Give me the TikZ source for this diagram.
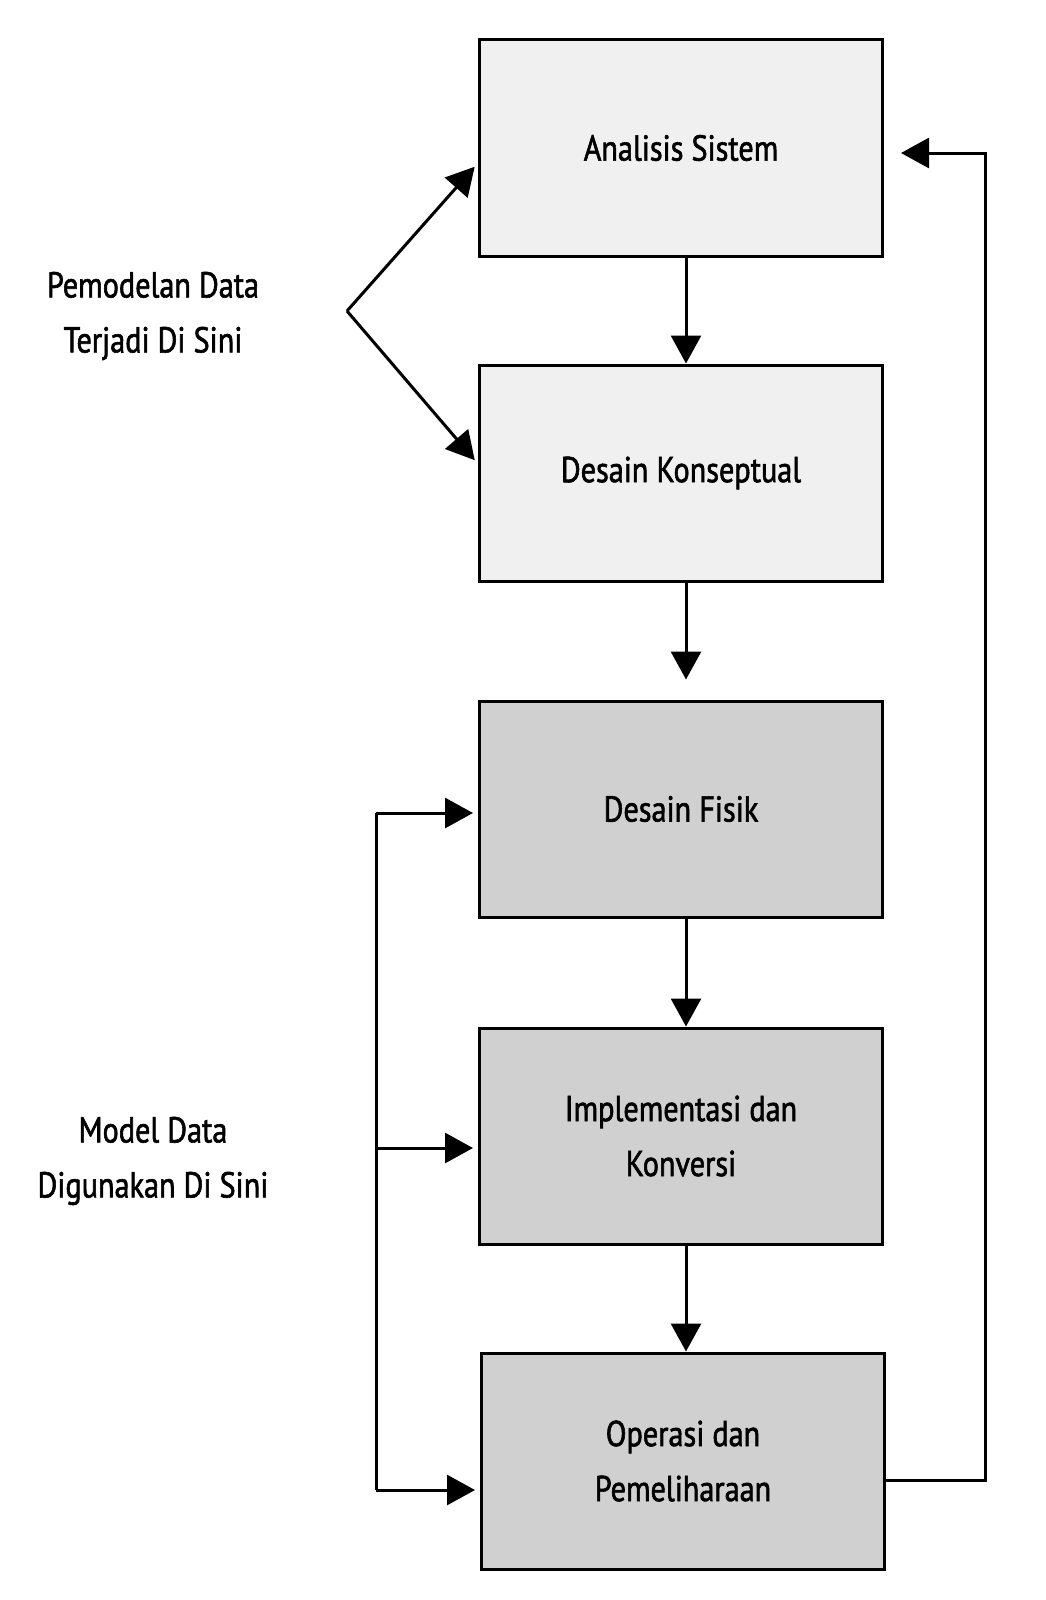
\documentclass[tikz,border=0pt]{standalone}
\usepackage{fontspec}
\setmainfont{PT Sans}[FakeStretch=0.84, FakeBold=1.6]
\usetikzlibrary{arrows.meta}
\definecolor{boxLIGHT}{RGB}{240,240,240}
\definecolor{boxDARK}{RGB}{208,208,208}

\begin{document}
\begin{tikzpicture}[x=0.5pt, y=-0.5pt, line width=1.5pt,
    every node/.style={font=\fontsize{18}{27.5}\selectfont, align=center},
    phase/.style={draw, minimum width=201.5pt, minimum height=108pt, inner sep=0pt},
    flow/.style={-{Triangle[length=14pt,width=15pt]}}]
  \useasboundingbox (0,0) rectangle (1045,1600);
  % phase boxes
  \node[phase, fill=boxLIGHT] (sys) at (681,148) {Analisis Sistem};
  \node[phase, fill=boxLIGHT] (con) at (681,473) {Desain Konseptual};
  \node[phase, fill=boxDARK]  (fis) at (681,809) {Desain Fisik};
  \node[phase, fill=boxDARK]  (imp) at (681,1136) {Implementasi dan\\Konversi};
  \node[phase, fill=boxDARK]  (ops) at (683,1461) {Operasi dan\\Pemeliharaan};
  % downward flow
  \draw[flow] ([xshift=2.5pt]sys.south) -- ([xshift=2.5pt]con.north);
  \draw[flow, shorten >=10pt] ([xshift=2.5pt]con.south) -- ([xshift=2.5pt]fis.north);
  \draw[flow] ([xshift=2.5pt]fis.south) -- ([xshift=2.5pt]imp.north);
  \draw[flow] ([xshift=2.5pt]imp.south) -- ([xshift=1.5pt]ops.north);
  % feedback loop on the right
  \draw[flow, shorten >=8.5pt] ([yshift=-9.5pt]ops.east) -- ++(99,0) |- ([yshift=-2.5pt]sys.east);
  % data modelling bracket
  \node (modeling) at (153,316) {Pemodelan Data\\Terjadi Di Sini};
  \coordinate (apex) at (347,311);
  \draw[flow, shorten >=2.5pt] (apex) -- ([yshift=-7.5pt]sys.west);
  \draw[flow, shorten >=2.5pt] (apex) -- ([yshift=4.5pt]con.west);
  % data model bus
  \node (usage) at (153,1161) {Model Data\\Digunakan Di Sini};
  \coordinate (bus) at (376,0);
  \draw ([yshift=-2pt]bus |- fis.west) -- ([yshift=-14.5pt]bus |- ops.west);
  \foreach \n/\dy in {fis/-2pt, imp/-6pt, ops/-14.5pt}
    \draw[flow, shorten >=2.5pt] ([yshift=\dy]bus |- \n.west) -- ([yshift=\dy]\n.west);
\end{tikzpicture}
\end{document}
